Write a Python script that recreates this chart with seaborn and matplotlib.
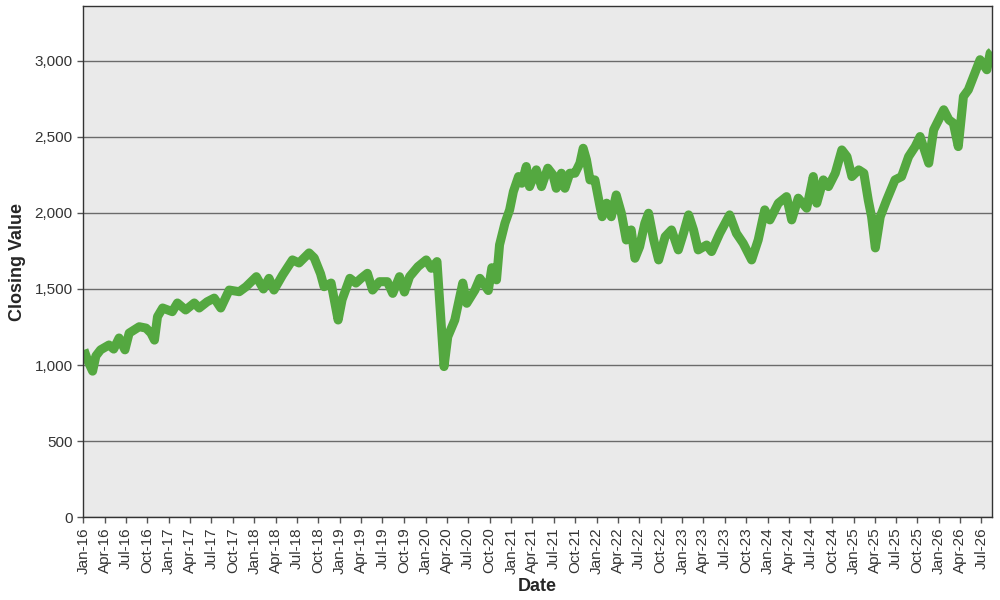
import pandas as pd
import seaborn as sns
import matplotlib
matplotlib.use("Agg")
import matplotlib.pyplot as plt
import matplotlib.dates as mdates
from matplotlib.ticker import FuncFormatter

# closing values
dates = [
    "2016-01-04", "2016-01-20", "2016-02-10", "2016-02-24", "2016-03-15", "2016-04-20",
    "2016-05-10", "2016-06-02", "2016-06-27", "2016-07-15", "2016-08-27", "2016-09-25",
    "2016-10-16", "2016-10-31", "2016-11-13", "2016-12-05", "2017-01-15", "2017-02-06",
    "2017-03-13", "2017-04-19", "2017-05-10", "2017-06-13", "2017-07-13", "2017-08-10",
    "2017-09-15", "2017-10-28", "2017-11-26", "2018-01-09", "2018-02-08", "2018-03-04",
    "2018-03-25", "2018-05-01", "2018-06-12", "2018-07-10", "2018-08-22", "2018-09-13",
    "2018-10-10", "2018-10-25", "2018-11-24", "2018-12-24", "2019-01-10", "2019-02-12",
    "2019-03-10", "2019-04-01", "2019-04-28", "2019-05-20", "2019-06-18", "2019-07-22",
    "2019-08-14", "2019-09-12", "2019-10-03", "2019-10-25", "2019-11-30", "2020-01-04",
    "2020-01-26", "2020-02-19", "2020-02-28", "2020-03-20", "2020-04-05", "2020-05-05",
    "2020-06-08", "2020-06-25", "2020-07-30", "2020-08-20", "2020-09-25", "2020-10-10",
    "2020-10-30", "2020-11-12", "2020-12-05", "2020-12-25", "2021-01-10", "2021-02-01",
    "2021-02-15", "2021-03-06", "2021-03-20", "2021-04-18", "2021-05-10", "2021-06-06",
    "2021-06-28", "2021-07-12", "2021-08-03", "2021-08-18", "2021-09-08", "2021-09-30",
    "2021-10-21", "2021-11-04", "2021-11-18", "2021-12-03", "2021-12-24", "2022-01-15",
    "2022-01-24", "2022-02-12", "2022-03-04", "2022-03-25", "2022-04-16", "2022-05-07",
    "2022-05-28", "2022-06-13", "2022-07-03", "2022-07-25", "2022-08-10", "2022-09-01",
    "2022-09-22", "2022-10-20", "2022-11-16", "2022-12-15", "2023-01-06", "2023-01-28",
    "2023-02-18", "2023-03-10", "2023-04-15", "2023-05-06", "2023-06-10", "2023-07-22",
    "2023-08-20", "2023-09-18", "2023-10-24", "2023-11-21", "2023-12-19", "2024-01-10",
    "2024-02-15", "2024-03-21", "2024-04-12", "2024-05-10", "2024-06-15", "2024-07-13",
    "2024-07-28", "2024-08-25", "2024-09-16", "2024-10-15", "2024-11-12", "2024-12-04",
    "2024-12-25", "2025-01-23", "2025-02-14", "2025-03-05", "2025-03-19", "2025-04-04",
    "2025-04-25", "2025-05-22", "2025-06-27", "2025-07-25", "2025-08-24", "2025-09-21",
    "2025-10-12", "2025-11-18", "2025-12-09", "2026-01-21", "2026-02-12", "2026-03-03",
    "2026-03-24", "2026-04-15", "2026-05-06", "2026-05-28", "2026-06-25", "2026-07-24",
    "2026-08-07", "2026-08-14",
]
closing = [
    1100, 1030, 960, 1060, 1100, 1132,
    1105, 1178, 1100, 1210, 1252, 1243,
    1210, 1164, 1318, 1375, 1351, 1408,
    1362, 1408, 1375, 1416, 1440, 1375,
    1493, 1482, 1515, 1581, 1500, 1570,
    1493, 1592, 1691, 1671, 1737, 1704,
    1600, 1515, 1539, 1296, 1430, 1570,
    1539, 1570, 1603, 1493, 1548, 1548,
    1471, 1581, 1480, 1581, 1647, 1691,
    1636, 1680, 1471, 990, 1186, 1296,
    1539, 1406, 1493, 1570, 1490, 1640,
    1560, 1790, 1932, 2020, 2140, 2239,
    2195, 2305, 2173, 2283, 2173, 2294,
    2250, 2162, 2261, 2162, 2261, 2261,
    2327, 2425, 2349, 2217, 2217, 2041,
    1975, 2064, 1975, 2118, 1998, 1822,
    1888, 1702, 1778, 1932, 1998, 1822,
    1691, 1844, 1888, 1757, 1866, 1987,
    1888, 1757, 1789, 1746, 1866, 1987,
    1866, 1800, 1691, 1822, 2020, 1954,
    2064, 2107, 1954, 2097, 2031, 2239,
    2064, 2217, 2173, 2261, 2414, 2370,
    2239, 2283, 2261, 2083, 1975, 1770,
    1975, 2083, 2217, 2239, 2370, 2436,
    2502, 2327, 2546, 2678, 2612, 2590,
    2436, 2765, 2809, 2897, 3007, 2941,
    3051, 3060,
]

df = pd.DataFrame({"Date": pd.to_datetime(dates), "Closing Value": closing})

sns.set_style("white")
plt.rcParams["font.family"] = ["Liberation Sans", "DejaVu Sans"]

fig, ax = plt.subplots(figsize=(10, 6), dpi=100)
fig.subplots_adjust(left=0.083, right=0.992, top=0.99, bottom=0.138)
ax.set_facecolor("#eaeaea")

sns.lineplot(data=df, x="Date", y="Closing Value", ax=ax,
             color="#54a840", linewidth=6.5, solid_joinstyle="round",
             solid_capstyle="butt")

ax.set_ylim(0, 3360)
ax.set_yticks(range(0, 3001, 500))
ax.yaxis.set_major_formatter(FuncFormatter(lambda v, _: f"{int(v):,}"))
ax.set_xlim(pd.Timestamp("2015-12-31"), pd.Timestamp("2026-08-15"))
ax.xaxis.set_major_locator(mdates.MonthLocator(bymonth=[1, 4, 7, 10]))
ax.xaxis.set_major_formatter(mdates.DateFormatter("%b-%y"))
plt.setp(ax.get_xticklabels(), rotation=90)

ax.yaxis.grid(True, color="#6b6b6b", linewidth=1)
ax.xaxis.grid(False)
ax.set_axisbelow(True)
ax.tick_params(axis="both", which="major", length=4, width=1, color="#555555",
               labelsize=11, labelcolor="#333333", bottom=True, left=True)
for side in ["top", "right", "bottom", "left"]:
    ax.spines[side].set_color("#333333")
    ax.spines[side].set_linewidth(1)

ax.set_xlabel("Date", fontsize=13, fontweight="bold", labelpad=3)
ax.set_ylabel("Closing Value", fontsize=13, fontweight="bold", labelpad=6)

fig.savefig("out.png", dpi=100)
plt.close(fig)
